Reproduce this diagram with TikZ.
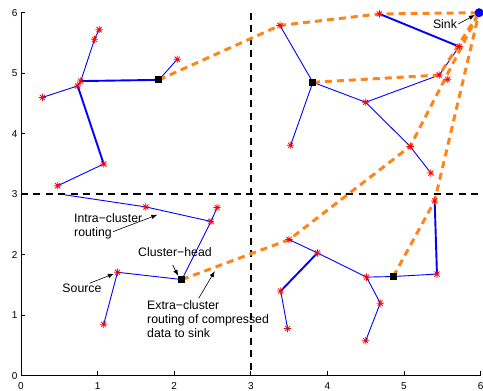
\documentclass[tikz,border=0pt]{standalone}
\usepackage{fontspec}
\setmainfont{Liberation Sans}
\usetikzlibrary{arrows.meta, backgrounds}

\definecolor{route}{RGB}{255,133,27}
\definecolor{link}{RGB}{0,0,255}

\begin{document}
\begin{tikzpicture}[x=76.6pt, y=60.5pt,
        sensor/.style={circle, inner sep=0pt, minimum size=7.5pt, path picture={
            \draw[red, line width=0.75pt]
                (path picture bounding box.north) -- (path picture bounding box.south)
                (path picture bounding box.east) -- (path picture bounding box.west)
                (path picture bounding box.north east) -- (path picture bounding box.south west)
                (path picture bounding box.north west) -- (path picture bounding box.south east);}},
        chead/.style={fill=black, inner sep=0pt, minimum size=7pt},
        intra/.style={link, line width=0.9pt},
        trunk/.style={link, line width=1.9pt},
        extra/.style={route, line width=3pt, dash pattern=on 7pt off 5pt},
        quad/.style={black, line width=1.8pt, dash pattern=on 7pt off 5.5pt},
        note/.style={-{Latex[length=6pt, width=4.5pt]}, line width=0.6pt},
        label text/.style={font=\fontsize{12.3}{14}\selectfont, inner sep=0pt, align=left},
        tick text/.style={font=\fontsize{10}{12}\selectfont}]
        \useasboundingbox (-0.274,-0.236) rectangle (6.031,6.210);

        \draw[line width=0.7pt] (0,6) -- (0,0) -- (6,0);
        \foreach \k in {0,...,6} {
            \draw[line width=0.7pt] (\k,0) -- ++(0,4.5pt);
            \draw[line width=0.7pt] (0,\k) -- ++(4.5pt,0);
            \node[tick text, anchor=north] at ([yshift=-3pt]\k,0) {\k};
            \node[tick text, anchor=east] at (0,\k) {\k};
        }

        \begin{scope}[every node/.style={sensor}]
            \node (a1) at (1.02,5.72) {};
            \node (a2) at (0.96,5.56) {};
            \node (a3) at (0.78,4.87) {};
            \node (a4) at (0.74,4.79) {};
            \node (a5) at (0.28,4.60) {};
            \node (a6) at (1.08,3.50) {};
            \node (a7) at (0.48,3.14) {};
            \node (a8) at (2.04,5.23) {};
            \node (b1) at (3.38,5.79) {};
            \node (b2) at (4.68,5.98) {};
            \node (b3) at (5.72,5.44) {};
            \node (b4) at (5.46,4.97) {};
            \node (b5) at (5.57,4.90) {};
            \node (b6) at (4.50,4.52) {};
            \node (b7) at (3.52,3.81) {};
            \node (b8) at (5.08,3.79) {};
            \node (b9) at (5.35,3.35) {};
            \node (c1) at (1.63,2.79) {};
            \node (c2) at (2.48,2.55) {};
            \node (c3) at (2.56,2.78) {};
            \node (c4) at (1.26,1.71) {};
            \node (c5) at (1.08,0.85) {};
            \node (d1) at (3.50,2.25) {};
            \node (d2) at (3.87,2.03) {};
            \node (d3) at (3.39,1.40) {};
            \node (d4) at (3.48,0.78) {};
            \node (d5) at (4.51,1.63) {};
            \node (d6) at (4.69,1.20) {};
            \node (d7) at (4.50,0.58) {};
            \node (d8) at (5.43,1.68) {};
            \node (d9) at (5.40,2.89) {};
        \end{scope}
        \coordinate (c0) at (0.57,2.99);

        \begin{scope}[every node/.style={chead}]
            \node (ha) at (1.80,4.89) {};
            \node (hb) at (3.81,4.85) {};
            \node (hc) at (2.10,1.59) {};
            \node (hd) at (4.86,1.64) {};
        \end{scope}
        \node[circle, fill=link, inner sep=0pt, minimum size=9pt] (sink) at (5.98,6.00) {};

        \begin{scope}[on background layer]
            \draw[quad] (3,6) -- (3,0);
            \draw[quad] (0,3) -- (6,3);

            \draw[intra] (a1.center) -- (a2.center) -- (a3.center) -- (a4.center) -- (a5.center);
            \draw[trunk] (a3.center) -- (ha.center);
            \draw[trunk] (a4.center) -- (a6.center);
            \draw[intra] (a6.center) -- (a7.center);
            \draw[intra] (ha.center) -- (a8.center);

            \draw[intra] (b1.center) -- (hb.center) -- (b7.center);
            \draw[intra] (hb.center) -- (b6.center) -- (b4.center) -- (b3.center);
            \draw[trunk] (b3.center) -- (b2.center);
            \draw[intra] (b6.center) -- (b8.center) -- (b9.center);

            \draw[intra] (c0) -- (c1.center) -- (c2.center) -- (c3.center);
            \draw[intra] (c2.center) -- (hc.center) -- (c4.center) -- (c5.center);

            \draw[intra] (d1.center) -- (d2.center) -- (d5.center) -- (hd.center) -- (d8.center);
            \draw[trunk] (d2.center) -- (d3.center);
            \draw[intra] (d3.center) -- (d4.center);
            \draw[intra] (d5.center) -- (d6.center) -- (d7.center);
            \draw[trunk] (d8.center) -- (d9.center);

            \draw[extra] (ha.center) -- (b1.center) -- (b2.center) -- (sink.center);
            \draw[extra] (hb.center) -- (b4.center) -- (sink.center);
            \draw[extra] (hc.center) -- (d1.center) -- (b8.center) -- (sink.center);
            \draw[extra] (hd.center) -- (d9.center) -- (sink.center);
        \end{scope}

        \node[label text, anchor=west] (intranote) at (0.692,2.474) {Intra−cluster\\routing};
        \node[label text] (headnote) at (2.01,2.045) {Cluster−head};
        \node[label text] (srcnote) at (0.796,1.45) {Source};
        \node[label text, anchor=west] (extranote) at (1.645,0.937) {Extra−cluster\\routing of compressed\\data to sink};
        \node[label text] (sinknote) at (5.535,5.813) {Sink};

        \coordinate (intratail) at (1.20,2.38);
        \coordinate (intratip) at (1.78,2.66);
        \coordinate (headtail) at (1.98,1.83);
        \coordinate (srctail) at (0.90,1.53);
        \coordinate (extratail) at (2.32,1.28);
        \coordinate (extratip) at (2.53,1.73);

        \draw[note] (intratail) -- (intratip);
        \draw[note] (headtail) -- (hc.north west);
        \draw[note] (srctail) -- (c4);
        \draw[note] (extratail) -- (extratip);
        \draw[note] ([xshift=1pt]sinknote.east) -- (sink);
    \end{tikzpicture}
\end{document}
